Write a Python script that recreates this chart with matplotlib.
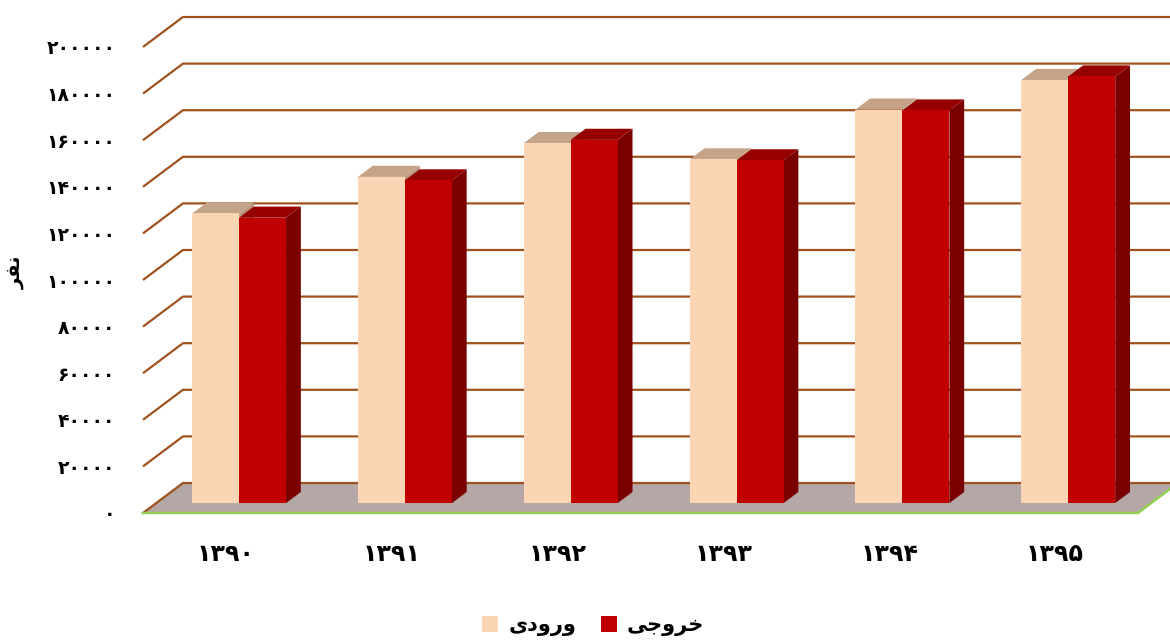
import matplotlib
matplotlib.use('Agg')
import matplotlib.pyplot as plt
from matplotlib.patches import Polygon, Patch

# data
years = ['۱۳۹۰', '۱۳۹۱', '۱۳۹۲', '۱۳۹۳', '۱۳۹۴', '۱۳۹۵']
vorudi = [124300, 140000, 154500, 147500, 168900, 181600]
khoruji = [122500, 138500, 155900, 147100, 168500, 183100]
yticks = [0, 20000, 40000, 60000, 80000, 100000, 120000, 140000, 160000, 180000, 200000]

FA = str.maketrans('0123456789', '۰۱۲۳۴۵۶۷۸۹')
ytick_labels = [str(v).translate(FA) for v in yticks]

# persian words: presentation forms, already in visual (left-to-right) order
# since matplotlib does no shaping or bidi
lbl_in = '\u06cc\u062f\u0648\u0631\u0648'              # ورودی
lbl_out = '\ufbfd\ufe9f\u0648\ufeae\ufea7'             # خروجی
lbl_y = '\ufeae\ufed4\ufee7'                           # نفر

plt.rcParams['font.family'] = ['DejaVu Sans']
plt.rcParams['font.weight'] = 'bold'

fig = plt.figure(figsize=(11.7, 6.43), dpi=100)
fig.patch.set_facecolor('white')
ax = fig.add_axes([143/1170, 130/643, 995/1170, 466/643])
ax.set_xlim(-0.5, 5.5)
ax.set_ylim(0, 200000)
for s in ax.spines.values():
    s.set_visible(False)

DX = 40/166          # depth offset in category units
DY = 30/466*200000   # depth offset in value units
BW = 47/166
F0, F1 = 0.33, 0.70  # bar front / back depth fraction

GRID = '#A0521E'
# floor
x0, x1 = -0.5, 5.5
ax.add_patch(Polygon([(x0, 0), (x1, 0), (x1+DX, DY), (x0+DX, DY)],
                     closed=True, facecolor='#B5A7A6', edgecolor='none',
                     zorder=1, clip_on=False))
ax.plot([x0, x0+DX, x1+DX], [0, DY, DY], color=GRID, lw=1.6, zorder=1.5, clip_on=False)
ax.plot([x0, x1, x1+DX], [0, 0, DY], color='#92D050', lw=1.8, zorder=1.5, clip_on=False)
# back wall gridlines
for v in yticks[1:]:
    ax.plot([x0, x0+DX, x1+DX], [v, v+DY, v+DY], color=GRID, lw=1.6,
            zorder=1, clip_on=False, solid_capstyle='butt')


def bar3d(xl, h, front, top, side):
    ax0, ay0 = xl + DX*F0, DY*F0
    bx, by = DX*(F1-F0), DY*(F1-F0)
    xr = ax0 + BW
    ax.add_patch(Polygon([(xr, ay0), (xr+bx, ay0+by), (xr+bx, ay0+by+h), (xr, ay0+h)],
                         facecolor=side, edgecolor='none', zorder=3, clip_on=False))
    ax.add_patch(Polygon([(ax0, ay0+h), (xr, ay0+h), (xr+bx, ay0+by+h), (ax0+bx, ay0+by+h)],
                         facecolor=top, edgecolor='none', zorder=3, clip_on=False))
    ax.add_patch(Polygon([(ax0, ay0), (xr, ay0), (xr, ay0+h), (ax0, ay0+h)],
                         facecolor=front, edgecolor='none', zorder=3, clip_on=False))


for i in range(len(years)):
    bar3d(i - BW, vorudi[i], '#FCD5B4', '#C4A389', '#B8967C')
    bar3d(i, khoruji[i], '#C00000', '#960000', '#7A0000')

ax.set_yticks(yticks, ytick_labels)
ax.set_xticks(range(len(years)), years)
ax.tick_params(axis='y', length=0, pad=20, labelsize=13.5)
ax.tick_params(axis='x', length=0, pad=21, labelsize=17)
fig.text(15/1170, 1 - 272/643, lbl_y, rotation=90, ha='center', va='center', fontsize=14)

handles = [Patch(facecolor='#FCD5B4', label=lbl_in),
           Patch(facecolor='#C00000', label=lbl_out)]
fig.legend(handles=handles, loc='center', bbox_to_anchor=(0.507, 0.027), ncol=2,
           frameon=False, fontsize=15, handlelength=0.75, handleheight=0.75,
           handletextpad=0.5, columnspacing=1.2)

fig.savefig('out.png', dpi=100, facecolor='white')
